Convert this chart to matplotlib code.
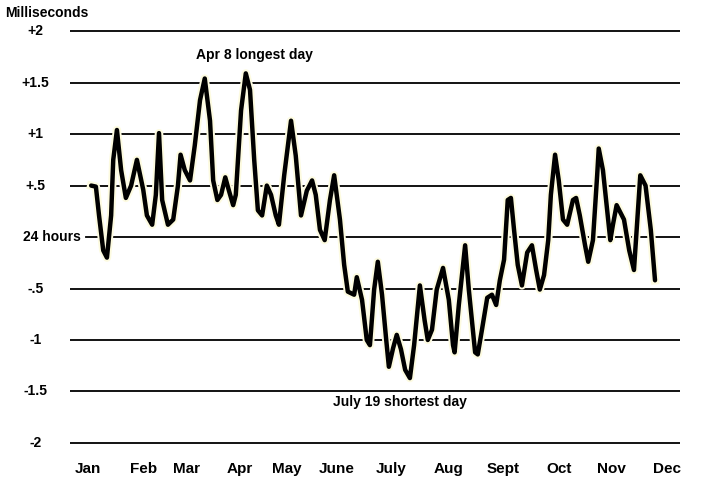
import matplotlib
matplotlib.use("Agg")
import matplotlib.pyplot as plt
import numpy as np

plt.rcParams["font.family"] = "Liberation Sans"

months = ["Jan", "Feb", "Mar", "Apr", "May", "June", "July", "Aug", "Sept", "Oct", "Nov", "Dec"]
month_pos = [0.0, 1.05, 1.88, 2.89, 3.78, 4.73, 5.76, 6.86, 7.89, 8.95, 9.96, 11.0]
level_values = [2, 1.5, 1, 0.5, 0, -0.5, -1, -1.5, -2]
level_labels = ["+2", "+1.5", "+1", "+.5", "24 hours", "-.5", "-1", "-1.5", "-2"]

# day-length deviation (x in months from Jan, y in ms)
time_m = [0.06, 0.15, 0.21, 0.29, 0.36, 0.44, 0.48, 0.55, 0.63, 0.72, 0.82, 0.93, 1.05, 1.12, 1.22,
          1.29, 1.35, 1.41, 1.52, 1.62, 1.71, 1.76, 1.84, 1.94, 2.03, 2.13, 2.22, 2.32, 2.38, 2.46,
          2.53, 2.61, 2.68, 2.76, 2.81, 2.91, 3.00, 3.08, 3.16, 3.23, 3.31, 3.40, 3.48, 3.57, 3.63,
          3.73, 3.86, 3.95, 4.05, 4.16, 4.26, 4.33, 4.41, 4.50, 4.60, 4.68, 4.79, 4.87, 4.94, 5.06,
          5.11, 5.21, 5.30, 5.36, 5.44, 5.51, 5.59, 5.67, 5.72, 5.80, 5.87, 5.95, 6.03, 6.12, 6.20,
          6.31, 6.40, 6.46, 6.54, 6.63, 6.75, 6.86, 6.94, 6.97, 7.05, 7.17, 7.24, 7.36, 7.41, 7.49,
          7.59, 7.68, 7.76, 7.83, 7.91, 7.98, 8.04, 8.10, 8.17, 8.25, 8.35, 8.44, 8.52, 8.59, 8.67,
          8.75, 8.80, 8.88, 8.95, 9.03, 9.11, 9.22, 9.28, 9.35, 9.45, 9.51, 9.60, 9.68, 9.71, 9.79,
          9.87, 9.93, 9.98, 10.05, 10.19, 10.29, 10.38, 10.43, 10.50, 10.60, 10.70, 10.78]
dev_ms = [0.50, 0.49, 0.21, -0.13, -0.20, 0.21, 0.75, 1.04, 0.65, 0.38, 0.50, 0.75, 0.46, 0.21, 0.12,
          0.41, 1.01, 0.36, 0.12, 0.17, 0.50, 0.80, 0.65, 0.55, 0.89, 1.33, 1.54, 1.13, 0.55, 0.36,
          0.41, 0.58, 0.45, 0.31, 0.41, 1.23, 1.59, 1.43, 0.75, 0.26, 0.21, 0.50, 0.41, 0.21, 0.12,
          0.60, 1.13, 0.79, 0.21, 0.45, 0.55, 0.41, 0.07, -0.03, 0.36, 0.60, 0.17, -0.27, -0.53, -0.56,
          -0.39, -0.61, -1.00, -1.05, -0.51, -0.24, -0.56, -1.00, -1.26, -1.08, -0.95, -1.09, -1.29, -1.37, -1.05,
          -0.47, -0.81, -1.00, -0.90, -0.51, -0.30, -0.61, -1.05, -1.12, -0.66, -0.08, -0.51, -1.12, -1.14, -0.90,
          -0.59, -0.56, -0.66, -0.42, -0.22, 0.36, 0.38, 0.07, -0.27, -0.47, -0.15, -0.08, -0.32, -0.51, -0.37,
          -0.03, 0.41, 0.80, 0.55, 0.17, 0.12, 0.36, 0.38, 0.21, -0.08, -0.24, -0.03, 0.60, 0.86, 0.65,
          0.26, -0.03, 0.12, 0.31, 0.17, -0.13, -0.32, 0.07, 0.60, 0.50, 0.07, -0.42]

fig = plt.figure(figsize=(7.2, 4.9), dpi=100)
ax = fig.add_axes([70 / 720, 1 - 445 / 490, 610 / 720, 420 / 490])
ax.set_xlim(-0.342, 11.255)
ax.set_ylim(-2.02, 2.06)
ax.axis("off")

for v in level_values:
    start = -0.03 if v == 0 else -0.342
    ax.plot([start, 11.255], [v, v], color="black", lw=1.3)

ax.plot(time_m, dev_ms, color="#fdfbe0", lw=6, solid_joinstyle="round", zorder=3)
ax.plot(time_m, dev_ms, color="black", lw=3.2, solid_joinstyle="round", solid_capstyle="round", zorder=4)

for v, lab in zip(level_values, level_labels):
    x = -0.68 if v == 0 else -1.0
    ax.text(x, v, lab, ha="center", va="center", fontsize=10, fontweight="bold", clip_on=False)

for p, m in zip(month_pos, months):
    ax.text(p, -2.25, m, ha="center", va="center", fontsize=11, fontweight="bold", clip_on=False)

ax.text(-1.58, 2.18, "Milliseconds", ha="left", va="center", fontsize=10, fontweight="bold", clip_on=False)
ax.text(3.17, 1.77, "Apr 8 longest day", ha="center", va="center", fontsize=10, fontweight="bold")
ax.text(5.93, -1.60, "July 19 shortest day", ha="center", va="center", fontsize=10, fontweight="bold")

fig.savefig("out.png", dpi=100, facecolor="white")
